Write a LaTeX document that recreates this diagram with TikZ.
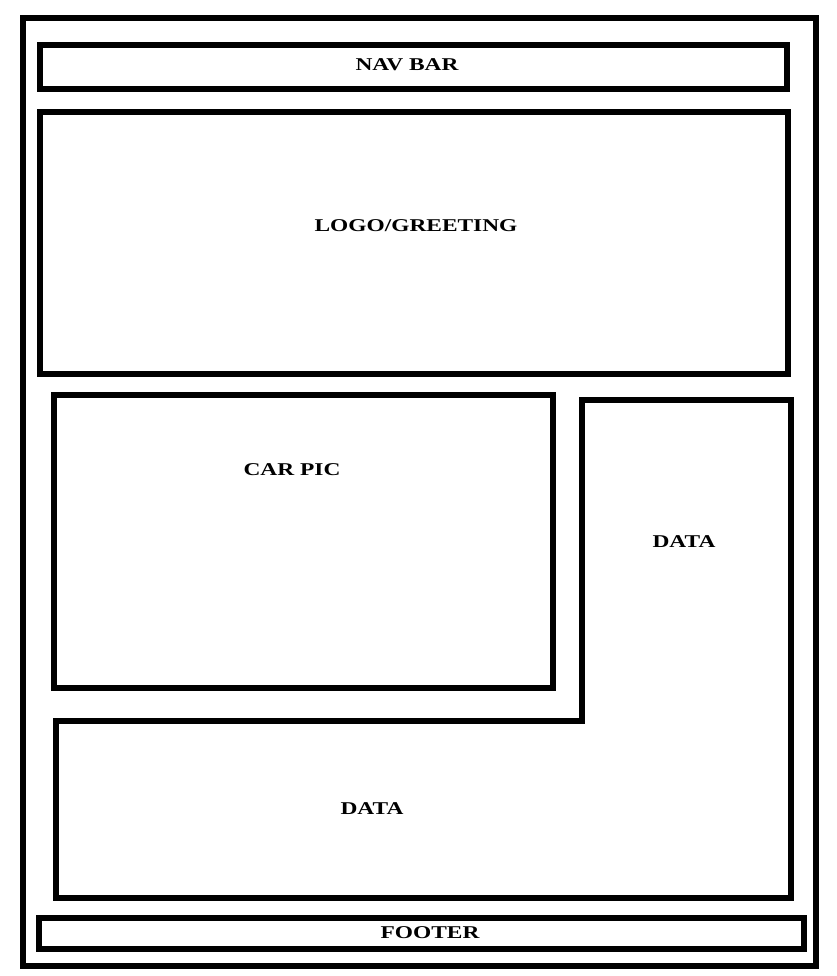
\documentclass[tikz,border=0pt]{standalone}
\usepackage{fontspec}
\setmainfont{Liberation Serif}
\newcommand{\widecaps}[1]{\scalebox{1.3}[1]{#1}}
\begin{document}
\begin{tikzpicture}[x=1pt,y=-1pt,
		boxline/.style={line width=6pt},
		boxlabel/.style={font=\bfseries\fontsize{18}{18}\selectfont,inner sep=0pt}]
	\useasboundingbox (0,0) rectangle (836,976);
	% Page frame
	\draw[boxline] (23,18) rectangle (816,966);
	% Nav bar and logo
	\draw[boxline] (40,45) rectangle (787,89);
	\draw[boxline] (40,112) rectangle (788,374);
	% Car picture
	\draw[boxline] (54,395) rectangle (553,688);
	% Data area (L-shaped)
	\draw[boxline] (582,400) -- (791,400) -- (791,898) -- (56,898)
		-- (56,721) -- (582,721) -- cycle;
	% Footer
	\draw[boxline] (39,918) rectangle (804,949);
	% Labels
	\node[boxlabel] (navbar) at (407,65) {\widecaps{NAV BAR}};
	\node[boxlabel] (logo) at (416,226) {\widecaps{LOGO/GREETING}};
	\node[boxlabel] (carpic) at (292,470) {\widecaps{CAR PIC}};
	\node[boxlabel] (datatop) at (684,542) {\widecaps{DATA}};
	\node[boxlabel] (databottom) at (372,809) {\widecaps{DATA}};
	\node[boxlabel] (footer) at (430,933) {\widecaps{FOOTER}};
\end{tikzpicture}
\end{document}
